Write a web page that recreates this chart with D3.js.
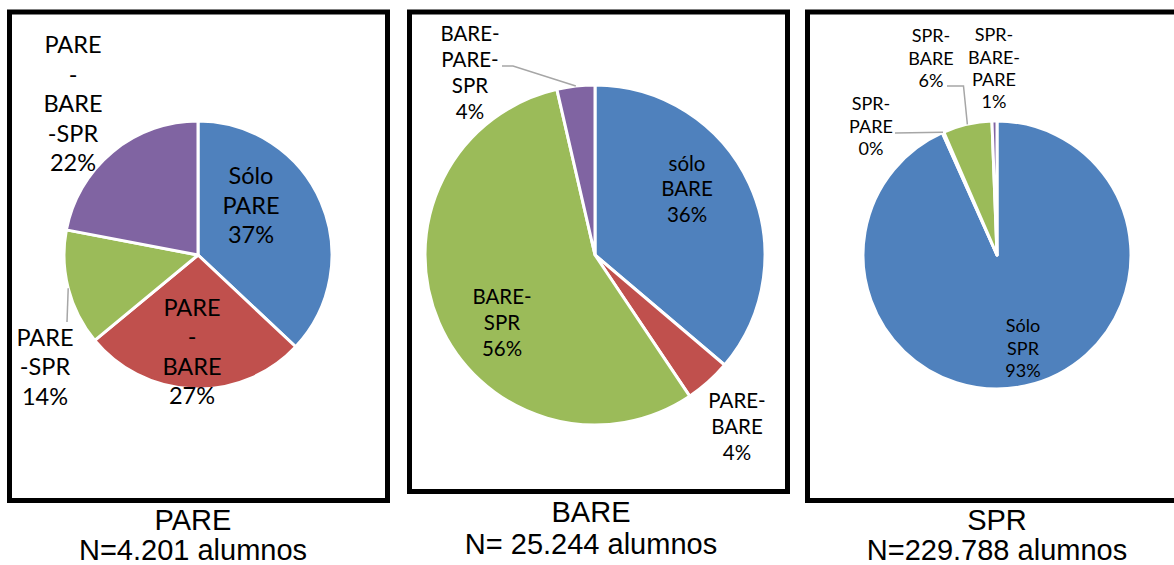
<!DOCTYPE html>
<html>
<head>
<meta charset="utf-8">
<script src="https://cdn.jsdelivr.net/npm/d3@7"></script>
<style>
  html, body { margin: 0; padding: 0; background: #ffffff; }
  svg { display: block; }
</style>
</head>
<body>
<svg id="chart" width="1174" height="565"></svg>
<script>
// ---------- DATA ----------
const panelTitles = ["PARE", "BARE", "SPR"];
const panelSubtitles = ["N=4.201 alumnos", "N= 25.244 alumnos", "N=229.788 alumnos"];

const pareCategories = ["Sólo PARE", "PARE-BARE", "PARE-SPR", "PARE-BARE-SPR"];
const pareValues = [37, 27, 14, 22];
const pareLabels = [["Sólo", "PARE", "37%"], ["PARE", "-", "BARE", "27%"], ["PARE", "-SPR", "14%"], ["PARE", "-", "BARE", "-SPR", "22%"]];

const bareCategories = ["sólo BARE", "PARE-BARE", "BARE-SPR", "BARE-PARE-SPR"];
const bareValues = [36.2, 4.4, 55.8, 3.6];
const bareLabels = [["sólo", "BARE", "36%"], ["PARE-", "BARE", "4%"], ["BARE-", "SPR", "56%"], ["BARE-", "PARE-", "SPR", "4%"]];

const sprCategories = ["Sólo SPR", "SPR-PARE", "SPR-BARE", "SPR-BARE-PARE"];
const sprValues = [93.3, 0.2, 5.9, 0.6];
const sprLabels = [["Sólo", "SPR", "93%"], ["SPR-", "PARE", "0%"], ["SPR-", "BARE", "6%"], ["SPR-", "BARE-", "PARE", "1%"]];

const sliceColors = ["#4F81BD", "#C0504D", "#9BBB59", "#8064A2"];

// ---------- LAYOUT ----------
const panels = [
  { cats: pareCategories, vals: pareValues, labels: pareLabels,
    box: [9.5, 12, 387.5, 500.5], cx: 198, cy: 255, r: 134,
    font: 23.5, lh: 29.5,
    labelPos: [[251, 176], [192, 307.5], [45, 337.5], [73, 45]],
    leaders: { 2: [[67, 322]] },
    titleX: 193, titleY: 530, subY: 560 },
  { cats: bareCategories, vals: bareValues, labels: bareLabels,
    box: [409.5, 12, 787.5, 491.5], cx: 595, cy: 255, r: 170,
    font: 20.5, lh: 25.8,
    labelPos: [[687, 163.5], [737, 401], [502, 297], [470, 34]],
    leaders: { 3: [[513, 66], [502, 66]] },
    titleX: 591, titleY: 522, subY: 554 },
  { cats: sprCategories, vals: sprValues, labels: sprLabels,
    box: [807.5, 12, 1185, 500.5], cx: 997, cy: 255, r: 134,
    font: 18, lh: 22.3,
    labelPos: [[1023, 326], [871, 104], [931, 36], [994, 35]],
    leaders: { 1: [[895, 133]], 2: [[963.5, 86], [947, 86]] },
    titleX: 997, titleY: 530, subY: 560 }
];

const svg = d3.select("#chart");
const pie = d3.pie().sort(null).value(d => d.v);

panels.forEach((p, pi) => {
  const g = svg.append("g");
  const [x0, y0, x1, y1] = p.box;
  g.append("rect")
    .attr("x", x0).attr("y", y0)
    .attr("width", x1 - x0).attr("height", y1 - y0)
    .attr("fill", "#fff").attr("stroke", "#000").attr("stroke-width", 5);

  const data = p.cats.map((c, i) => ({ c, v: p.vals[i], i }));
  const arcs = pie(data);
  const arc = d3.arc().innerRadius(0).outerRadius(p.r);

  const pg = g.append("g").attr("transform", `translate(${p.cx},${p.cy})`);
  pg.selectAll("path.slice").data(arcs).enter().append("path")
    .attr("class", "slice")
    .attr("d", arc)
    .attr("fill", d => sliceColors[d.data.i])
    .attr("stroke", "#fff").attr("stroke-width", 3)
    .attr("stroke-linejoin", "round");

  arcs.forEach(a => {
    const pts = p.leaders[a.data.i];
    if (!pts) return;
    const mid = (a.startAngle + a.endAngle) / 2;
    const start = [p.cx + p.r * Math.sin(mid), p.cy - p.r * Math.cos(mid)];
    g.append("path")
      .attr("d", d3.line()([start, ...pts]))
      .attr("fill", "none").attr("stroke", "#A6A6A6").attr("stroke-width", 1.5);
  });

  arcs.forEach(a => {
    const i = a.data.i;
    const [lx, ly] = p.labelPos[i];
    const t = g.append("text")
      .attr("text-anchor", "middle")
      .attr("font-family", "Lato, 'Open Sans', sans-serif")
      .attr("font-size", p.font)
      .attr("fill", "#000");
    p.labels[i].forEach((ln, k) => {
      t.append("tspan")
        .attr("x", lx)
        .attr("y", ly + k * p.lh + p.font * 0.35)
        .text(ln);
    });
  });

  g.append("text")
    .attr("x", p.titleX).attr("y", p.titleY)
    .attr("text-anchor", "middle")
    .attr("font-family", "'Liberation Sans', Arial, sans-serif")
    .attr("font-size", 29).attr("fill", "#000")
    .text(panelTitles[pi]);
  g.append("text")
    .attr("x", p.titleX).attr("y", p.subY)
    .attr("text-anchor", "middle")
    .attr("font-family", "'Liberation Sans', Arial, sans-serif")
    .attr("font-size", 29).attr("fill", "#000")
    .text(panelSubtitles[pi]);
});
</script>
</body>
</html>
